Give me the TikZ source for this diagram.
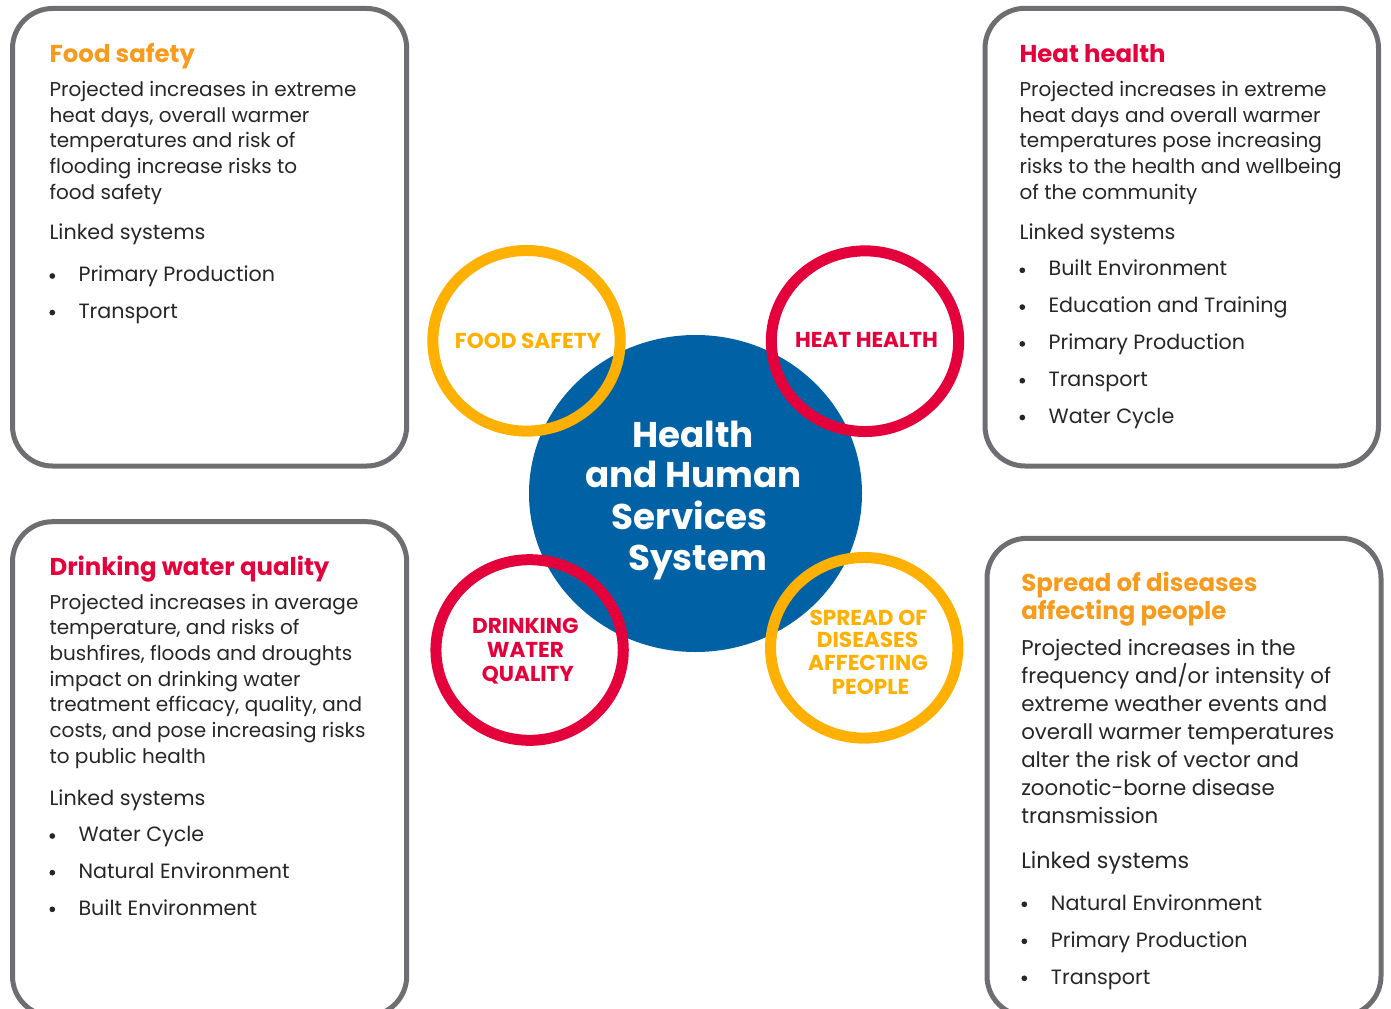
\documentclass[tikz,border=0pt]{standalone}
\usepackage{fontspec}
\setmainfont{Poppins}
\usetikzlibrary{shapes.geometric}
\definecolor{vblue}{HTML}{0062A4}
\definecolor{vgold}{HTML}{FFB000}
\definecolor{vred}{HTML}{E4003B}
\definecolor{vorange}{HTML}{F89B1C}
\definecolor{vgray}{HTML}{6D6E71}
\definecolor{vtext}{HTML}{262626}
\tikzset{
  panel/.style={draw=vgray, line width=3.75pt, rounded corners=30pt},
  ring/.style={ellipse, draw, line width=8.25pt, minimum width=140.5pt, minimum height=135.5pt, inner sep=0pt},
  hub/.style={ellipse, fill=vblue, minimum width=249.75pt, minimum height=237.75pt, inner sep=0pt},
  txt/.style={inner sep=0pt, anchor=base west, text=vtext},
  body/.style={txt, font=\fontsize{15}{18}\selectfont},
  bodyL/.style={txt, font=\fontsize{16}{19}\selectfont},
  list/.style={txt, font=\fontsize{15.5}{18}\selectfont},
  listL/.style={txt, font=\fontsize{16.7}{19}\selectfont},
  title/.style={inner sep=0pt, anchor=base west, font=\fontsize{18.3}{21}\selectfont\bfseries},
  dot/.style={circle, fill=vtext, inner sep=0pt, minimum size=4.3pt},
  ringtxt/.style={inner sep=0pt, anchor=base, font=\fontsize{16.2}{19}\selectfont\bfseries},
  hubtxt/.style={inner sep=0pt, anchor=base, text=white, font=\fontsize{26.8}{32}\selectfont\bfseries}
}
\begin{document}
\begin{tikzpicture}[x=0.75pt,y=-0.75pt]
\useasboundingbox (0,0) rectangle (1391,1009);
\clip (0,0) rectangle (1391,1009);
% panels
\draw[panel] (12.5,8.5) rectangle (406.7,466);
\draw[panel] (985,8.3) rectangle (1378.5,466);
\draw[panel] (12.5,521.7) rectangle (406.7,1016);
\draw[panel] (987,538.3) rectangle (1381,1016);
% hub and rings
\node[hub] (hub) at (695.5,493.5) {};
\node[ring, draw=vgold] (rfood) at (526.5,340.8) {};
\node[ring, draw=vred] (rheat) at (865,341.2) {};
\node[ring, draw=vred] (rdrink) at (529.6,650) {};
\node[ring, draw=vgold] (rspread) at (864.2,647.8) {};
% hub text
\node[hubtxt] (h1) at (693.3,447.4) {Health};
\node[hubtxt] (h2) at (693.3,487.7) {and Human};
\node[hubtxt] (h3) at (689.7,529.7) {Services};
\node[hubtxt] (h4) at (697.8,570.6) {System};
% ring texts
\node[ringtxt, text=vgold] (tfood) at (528,348.3) {FOOD SAFETY};
\node[ringtxt, text=vred] (theat) at (866.5,347.7) {HEAT HEALTH};
\node[ringtxt, text=vred] (td1) at (525.4,633) {DRINKING};
\node[ringtxt, text=vred] (td2) at (525.4,657) {WATER};
\node[ringtxt, text=vred] (td3) at (527.9,681) {QUALITY};
\node[ringtxt, text=vgold] (ts1) at (868.3,625) {SPREAD OF};
\node[ringtxt, text=vgold] (ts2) at (867.5,647.5) {DISEASES};
\node[ringtxt, text=vgold] (ts3) at (868,670.7) {AFFECTING};
\node[ringtxt, text=vgold] (ts4) at (870.5,694) {PEOPLE};
% Food safety panel
\node[title, text=vorange] (fst) at (49.3,62.3) {Food safety};
\foreach \t [count=\i from 0] in {Projected increases in extreme,{heat days, overall warmer},temperatures and risk of,flooding increase risks to,food safety}
  \node[body] (fsl\i) at (49.3,{96.7+25.65*\i}) {\t};
\node[list] (fsk) at (49.3,240) {Linked systems};
\foreach \t [count=\i from 0] in {Primary Production,Transport}{
  \node[dot] (fsd\i) at (52.3,{276+36.6*\i}) {};
  \node[list] (fsb\i) at (78.3,{281.7+36.6*\i}) {\t};
}
% Heat health panel
\node[title, text=vred] (hht) at (1019.3,62.3) {Heat health};
\foreach \t [count=\i from 0] in {Projected increases in extreme,heat days and overall warmer,temperatures pose increasing,risks to the health and wellbeing,of the community}
  \node[body] (hhl\i) at (1019.3,{96.7+25.65*\i}) {\t};
\node[list] (hhk) at (1019.3,239.3) {Linked systems};
\foreach \t [count=\i from 0] in {Built Environment,Education and Training,Primary Production,Transport,Water Cycle}{
  \node[dot] (hhd\i) at (1022.3,{270.3+36.8*\i}) {};
  \node[list] (hhb\i) at (1048.3,{276+36.8*\i}) {\t};
}
% Drinking water panel
\node[title, text=vred] (dwt) at (49.3,575) {Drinking water quality};
\foreach \t [count=\i from 0] in {Projected increases in average,{temperature, and risks of},{bushfires, floods and droughts},impact on drinking water,{treatment efficacy, quality, and},{costs, and pose increasing risks},to public health}
  \node[body] (dwl\i) at (49.3,{609+25.7*\i}) {\t};
\node[list] (dwk) at (49.3,805) {Linked systems};
\foreach \t [count=\i from 0] in {Water Cycle,Natural Environment,Built Environment}{
  \node[dot] (dwd\i) at (52.3,{836+36.65*\i}) {};
  \node[list] (dwb\i) at (78.3,{841.7+36.65*\i}) {\t};
}
% Spread of diseases panel
\node[title, text=vorange] (sdt1) at (1021,591) {Spread of diseases};
\node[title, text=vorange] (sdt2) at (1021,619) {affecting people};
\foreach \t [count=\i from 0] in {Projected increases in the,frequency and/or intensity of,extreme weather events and,overall warmer temperatures,alter the risk of vector and,zoonotic-borne disease,transmission}
  \node[bodyL] (sdl\i) at (1021,{655+28.05*\i}) {\t};
\node[listL] (sdk) at (1021,868.3) {Linked systems};
\foreach \t [count=\i from 0] in {Natural Environment,Primary Production,Transport}{
  \node[dot] (sdd\i) at (1024.3,{904.3+37*\i}) {};
  \node[list] (sdb\i) at (1050.7,{910+37*\i}) {\t};
}
\end{tikzpicture}
\end{document}
